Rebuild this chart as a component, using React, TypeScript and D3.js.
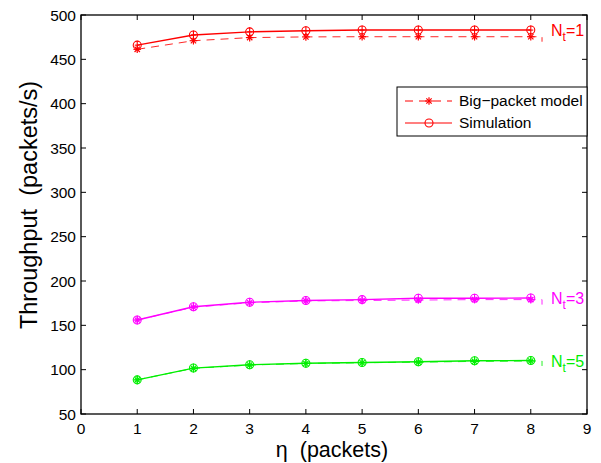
import React from "react";
import * as d3 from "d3";

const etas = [1, 2, 3, 4, 5, 6, 7, 8];
const simNt1 = [466, 477.5, 481, 482.3, 483, 483, 483, 483];
const modelNt1 = [461.3, 471, 474.5, 475.3, 475.5, 475.5, 475.5, 475.5];
const simNt3 = [156, 171, 176, 178, 179, 180.5, 180.5, 180.8];
const modelNt3 = [156, 170.5, 175.5, 177.5, 178, 178.5, 179, 179];
const simNt5 = [88.5, 101.8, 105.6, 107.3, 108, 109, 110, 110.3];
const modelNt5 = [88.5, 101.5, 105.2, 107, 107.8, 108.5, 109.3, 109.8];
const xTicks = [0, 1, 2, 3, 4, 5, 6, 7, 8, 9];
const yTicks = [50, 100, 150, 200, 250, 300, 350, 400, 450, 500];

const series = [
  { label: "1", color: "#ff0000", sim: simNt1, model: modelNt1 },
  { label: "3", color: "#ff00ff", sim: simNt3, model: modelNt3 },
  { label: "5", color: "#00ee00", sim: simNt5, model: modelNt5 },
];

const L = 81, R = 587, T = 15, B = 414;
const font = "Liberation Sans, Arial, Helvetica, sans-serif";

export default function App() {
  const x = d3.scaleLinear().domain([0, 9]).range([L, R]);
  const y = d3.scaleLinear().domain([50, 500]).range([B, T]);
  const line = d3.line<number>().x((_, i) => x(etas[i])).y((v) => y(v));

  const star = (cx: number, cy: number, c: string, k: string) => {
    const s = 3.8;
    return (
      <g key={k} stroke={c} strokeWidth={1.2}>
        <line x1={cx - s} y1={cy} x2={cx + s} y2={cy} />
        <line x1={cx} y1={cy - s} x2={cx} y2={cy + s} />
        <line x1={cx - s * 0.7} y1={cy - s * 0.7} x2={cx + s * 0.7} y2={cy + s * 0.7} />
        <line x1={cx - s * 0.7} y1={cy + s * 0.7} x2={cx + s * 0.7} y2={cy - s * 0.7} />
      </g>
    );
  };
  const circ = (cx: number, cy: number, c: string, k: string, plus = true) => (
    <g key={k} stroke={c} strokeWidth={1.1} fill="none">
      <circle cx={cx} cy={cy} r={4} />
      {plus && <line x1={cx} y1={cy - 4.5} x2={cx} y2={cy + 4.5} />}
      {plus && <line x1={cx - 2.5} y1={cy} x2={cx + 2.5} y2={cy} />}
    </g>
  );

  return (
    <svg width={601} height={463} style={{ position: "absolute", left: 0, top: 0, background: "#fff" }} fontFamily={font}>
      <rect x={0} y={0} width={601} height={463} fill="#fff" />
      {series.map((s) => {
        const endX = x(8.2);
        const lastY = y(s.model[7]);
        return (
          <g key={s.label}>
            <path d={line(s.model) + `L${endX},${lastY}L${endX},${lastY + 5}`} fill="none" stroke={s.color} strokeOpacity={0.85} strokeWidth={1} strokeDasharray="8,6" />
            <path d={line(s.sim) || ""} fill="none" stroke={s.color} strokeWidth={1.4} />
            {s.model.map((v, i) => star(x(etas[i]), y(v), s.color, "m" + i))}
            {s.sim.map((v, i) => circ(x(etas[i]), y(v), s.color, "s" + i))}
            <text x={551} y={y(s.sim[7]) + 6} fill={s.color} fontSize={16}>
              N<tspan fontSize={12} dy={5}>t</tspan><tspan dy={-5}>={s.label}</tspan>
            </text>
          </g>
        );
      })}
      {/* axes box */}
      <rect x={L} y={T} width={R - L} height={B - T} fill="none" stroke="#000" strokeWidth={1.3} />
      {xTicks.map((t) => (
        <g key={"x" + t}>
          <line x1={x(t)} x2={x(t)} y1={B} y2={B - 5} stroke="#000" />
          <line x1={x(t)} x2={x(t)} y1={T} y2={T + 5} stroke="#000" />
          <text x={x(t)} y={B + 20} textAnchor="middle" fontSize={15.5} fill="#000">{t}</text>
        </g>
      ))}
      {yTicks.map((t) => (
        <g key={"y" + t}>
          <line x1={L} x2={L + 5} y1={y(t)} y2={y(t)} stroke="#000" />
          <line x1={R} x2={R - 5} y1={y(t)} y2={y(t)} stroke="#000" />
          <text x={L - 5} y={y(t) + 5.5} textAnchor="end" fontSize={15.5} fill="#000">{t}</text>
        </g>
      ))}
      {/* legend */}
      <rect x={397} y={87} width={R - 397} height={49} fill="#fff" stroke="#000" strokeWidth={1} />
      <line x1={405} x2={452} y1={101} y2={101} stroke="#ff0000" strokeDasharray="8,6" />
      {star(429, 101, "#ff0000", "ls")}
      <text x={459} y={106} fontSize={15.5} fill="#000">Big−packet model</text>
      <line x1={405} x2={452} y1={123} y2={123} stroke="#ff0000" strokeWidth={1.2} />
      {circ(429, 123, "#ff0000", "lc", false)}
      <text x={459} y={128} fontSize={15.5} fill="#000">Simulation</text>
      {/* axis labels */}
      <text x={332} y={457} textAnchor="middle" fontSize={21.5} fill="#000" style={{ whiteSpace: "pre" }}>η  (packets)</text>
      <text transform={`translate(37,205) rotate(-90)`} textAnchor="middle" fontSize={23.5} fill="#000" style={{ whiteSpace: "pre" }}>Throughput  (packets/s)</text>
    </svg>
  );
}
